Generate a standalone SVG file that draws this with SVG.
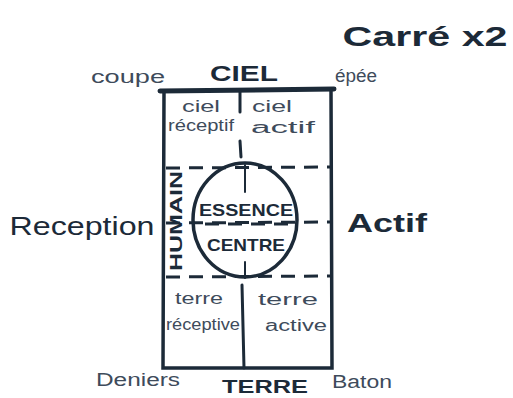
<svg xmlns="http://www.w3.org/2000/svg" width="513" height="398" viewBox="0 0 513 398">
<style>
.ink{stroke:#1c2a38;fill:none;stroke-linecap:round}
.bold{font-family:"Liberation Sans",Arial,sans-serif;font-weight:bold;fill:#1c2a38}
.mid{font-family:"Liberation Sans",Arial,sans-serif;fill:#1c2a38}
.thin{font-family:"Liberation Sans",Arial,sans-serif;fill:#3e4b5b}
.dash{stroke:#1c2a38;stroke-width:3;stroke-dasharray:14 9;fill:none}
</style>
<rect width="513" height="398" fill="#ffffff"/>
<g id="frame">
<path class="ink" stroke-width="5" d="M160 91 L334 89"/>
<path class="ink" stroke-width="3.5" d="M164 92 L163 368 L332 368 L331 90"/>
</g>
<g id="connectors">
<path class="ink" stroke-width="3" d="M240 92 L240 112 M240 141 L241 157 M242 285 L244 368"/>
<path class="dash" d="M166 168 L330 167"/>
<path class="dash" d="M166 223 L330 222"/>
<path class="dash" d="M166 277 L330 276"/>
</g>
<g id="centre">
<ellipse cx="245" cy="220" rx="52" ry="57" class="ink" stroke-width="3.5" fill="#ffffff"/>
<path class="dash" d="M205 224 L290 224"/>
<path class="ink" stroke-width="2" d="M245 165 L245 192 M245 262 L245 278"/>
<text class="bold" x="246" y="216" font-size="17" text-anchor="middle" textLength="94" lengthAdjust="spacingAndGlyphs">ESSENCE</text>
<text class="bold" x="246" y="251" font-size="17" text-anchor="middle" textLength="78" lengthAdjust="spacingAndGlyphs">CENTRE</text>
</g>
<g id="humain">
<text class="bold" transform="translate(182 221) rotate(-90)" font-size="17" text-anchor="middle" textLength="100" lengthAdjust="spacingAndGlyphs">HUMAIN</text>
</g>
<g id="ciel">
<text class="bold" x="244" y="81" font-size="22" text-anchor="middle" textLength="68" lengthAdjust="spacingAndGlyphs">CIEL</text>
</g>
<g id="terre">
<text class="bold" x="265" y="393" font-size="19" text-anchor="middle" textLength="86" lengthAdjust="spacingAndGlyphs">TERRE</text>
</g>
<g id="carre">
<text class="bold" x="425" y="46" font-size="28" text-anchor="middle" textLength="165" lengthAdjust="spacingAndGlyphs">Carré x2</text>
</g>
<g id="reception">
<text class="mid" x="82" y="235" font-size="26" text-anchor="middle" textLength="145" lengthAdjust="spacingAndGlyphs">Reception</text>
</g>
<g id="actif">
<text class="bold" x="387" y="232" font-size="26" text-anchor="middle" textLength="80" lengthAdjust="spacingAndGlyphs">Actif</text>
</g>
<g id="coupe">
<text class="thin" x="128" y="83" font-size="18" text-anchor="middle" textLength="74" lengthAdjust="spacingAndGlyphs">coupe</text>
</g>
<g id="epee">
<text class="thin" x="356" y="82" font-size="18" text-anchor="middle" textLength="42" lengthAdjust="spacingAndGlyphs">épée</text>
</g>
<g id="ciel-receptif">
<text class="thin" x="201" y="112" font-size="16" text-anchor="middle" textLength="38" lengthAdjust="spacingAndGlyphs">ciel</text>
<text class="thin" x="201" y="131" font-size="16" text-anchor="middle" textLength="66" lengthAdjust="spacingAndGlyphs">réceptif</text>
</g>
<g id="ciel-actif">
<text class="thin" x="272" y="112" font-size="16" text-anchor="middle" textLength="40" lengthAdjust="spacingAndGlyphs">ciel</text>
<text class="thin" x="283" y="133" font-size="16" text-anchor="middle" textLength="64" lengthAdjust="spacingAndGlyphs">actif</text>
</g>
<g id="terre-receptive">
<text class="thin" x="199" y="304" font-size="16" text-anchor="middle" textLength="48" lengthAdjust="spacingAndGlyphs">terre</text>
<text class="thin" x="203" y="330" font-size="16" text-anchor="middle" textLength="74" lengthAdjust="spacingAndGlyphs">réceptive</text>
</g>
<g id="terre-active">
<text class="thin" x="288" y="305" font-size="16" text-anchor="middle" textLength="60" lengthAdjust="spacingAndGlyphs">terre</text>
<text class="thin" x="296" y="331" font-size="16" text-anchor="middle" textLength="62" lengthAdjust="spacingAndGlyphs">active</text>
</g>
<g id="deniers">
<text class="thin" x="138" y="386" font-size="18" text-anchor="middle" textLength="84" lengthAdjust="spacingAndGlyphs">Deniers</text>
</g>
<g id="baton">
<text class="thin" x="362" y="388" font-size="18" text-anchor="middle" textLength="60" lengthAdjust="spacingAndGlyphs">Baton</text>
</g>
</svg>
